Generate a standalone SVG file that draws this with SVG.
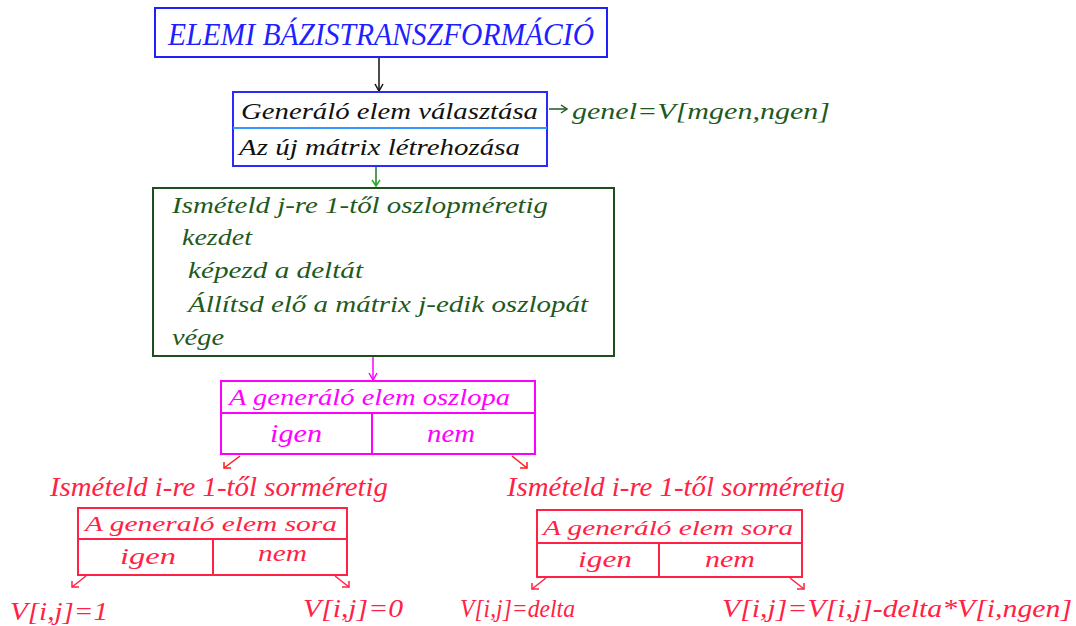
<svg xmlns="http://www.w3.org/2000/svg" width="1076" height="626" viewBox="0 0 1076 626">
<style>
text{font-family:"Liberation Serif","DejaVu Serif",serif;font-style:italic}
.blue{fill:#1f1fff}
.blk{fill:#111}
.grn{fill:#1e5a1e}
.mag{fill:#ff00ff}
.red{fill:#ff2244}
.bx{fill:none;stroke-width:2}
.ln{fill:none;stroke-width:1.5}
</style>
<rect width="1076" height="626" fill="#fff"/>
<g id="connectors">
  <line class="ln" x1="379" y1="58" x2="379" y2="91" stroke="#111"/>
  <polyline class="ln" points="375,84 379,91 383,84" stroke="#111"/>
  <line class="ln" x1="549" y1="109" x2="566" y2="109" stroke="#1e5a1e"/>
  <polyline class="ln" points="561,105 567,109 561,113" stroke="#1e5a1e"/>
  <line class="ln" x1="376" y1="167" x2="376" y2="186" stroke="#1e7a1e"/>
  <polyline class="ln" points="372,180 376,186 380,180" stroke="#22aa22"/>
  <line class="ln" x1="373" y1="357" x2="373" y2="380" stroke="#ff00ff"/>
  <polyline class="ln" points="369,373 373,380 377,373" stroke="#ff00ff"/>
  <line class="ln" x1="240" y1="456" x2="224" y2="468" stroke="#ff1a1a"/>
  <polyline class="ln" points="224,462 224,468 231,468" stroke="#ff1a1a"/>
  <line class="ln" x1="512" y1="456" x2="527" y2="468" stroke="#ff1a1a"/>
  <polyline class="ln" points="520,468 527,468 527,462" stroke="#ff1a1a"/>
  <line class="ln" x1="86" y1="576" x2="72" y2="587" stroke="#ff2244"/>
  <polyline class="ln" points="72,581 72,587 79,587" stroke="#ff2244"/>
  <line class="ln" x1="335" y1="576" x2="349" y2="587" stroke="#ff2244"/>
  <polyline class="ln" points="342,587 349,587 349,581" stroke="#ff2244"/>
  <line class="ln" x1="546" y1="578" x2="532" y2="589" stroke="#ff2244"/>
  <polyline class="ln" points="532,583 532,589 539,589" stroke="#ff2244"/>
  <line class="ln" x1="790" y1="578" x2="804" y2="589" stroke="#ff2244"/>
  <polyline class="ln" points="797,589 804,589 804,583" stroke="#ff2244"/>
</g>
<g id="title">
  <rect class="bx" x="155" y="8" width="452" height="49" stroke="#2020ff"/>
  <text class="blue" x="168" y="45" font-size="31" textLength="426" lengthAdjust="spacingAndGlyphs">ELEMI BÁZISTRANSZFORMÁCIÓ</text>
</g>
<g id="generalo">
  <rect class="bx" x="233" y="92" width="314" height="74" stroke="#2a2aff"/>
  <line x1="233" y1="128" x2="547" y2="128" stroke="#3399ff" stroke-width="2"/>
  <text class="blk" x="241" y="119" font-size="24" textLength="297" lengthAdjust="spacingAndGlyphs">Generáló elem választása</text>
  <text class="blk" x="239" y="155" font-size="24" textLength="281" lengthAdjust="spacingAndGlyphs">Az új mátrix létrehozása</text>
</g>
<g id="genel">
  <text class="grn" x="572" y="119" font-size="24" textLength="258" lengthAdjust="spacingAndGlyphs">genel=V[mgen,ngen]</text>
</g>
<g id="ciklus-j">
  <rect class="bx" x="153" y="188" width="461" height="168" stroke="#1e4e1e"/>
  <text class="grn" x="172" y="213" font-size="24" textLength="376" lengthAdjust="spacingAndGlyphs">Ismételd j-re  1-től oszlopméretig</text>
  <text class="grn" x="182" y="245" font-size="24" textLength="70" lengthAdjust="spacingAndGlyphs">kezdet</text>
  <text class="grn" x="188" y="278" font-size="24" textLength="175" lengthAdjust="spacingAndGlyphs">képezd a deltát</text>
  <text class="grn" x="188" y="312" font-size="24" textLength="400" lengthAdjust="spacingAndGlyphs">Állítsd elő a mátrix j-edik oszlopát</text>
  <text class="grn" x="172" y="345" font-size="24" textLength="52" lengthAdjust="spacingAndGlyphs">vége</text>
</g>
<g id="oszlop">
  <rect class="bx" x="221" y="381" width="314" height="73" stroke="#ff00ff"/>
  <line x1="221" y1="413" x2="535" y2="413" stroke="#ff00ff" stroke-width="2"/>
  <line x1="372" y1="413" x2="372" y2="454" stroke="#ff00ff" stroke-width="2"/>
  <text class="mag" x="229" y="405" font-size="24" textLength="281" lengthAdjust="spacingAndGlyphs">A  generáló elem oszlopa</text>
  <text class="mag" x="270" y="442" font-size="25" textLength="52" lengthAdjust="spacingAndGlyphs">igen</text>
  <text class="mag" x="427" y="442" font-size="25" textLength="48" lengthAdjust="spacingAndGlyphs">nem</text>
</g>
<g id="ciklus-i-bal">
  <text class="red" x="50" y="496" font-size="27" textLength="338" lengthAdjust="spacingAndGlyphs">Ismételd i-re 1-től sorméretig</text>
</g>
<g id="sor-bal">
  <rect class="bx" x="78" y="508" width="269" height="67" stroke="#ff2244"/>
  <line x1="78" y1="539" x2="347" y2="539" stroke="#ff2244" stroke-width="2"/>
  <line x1="213" y1="539" x2="213" y2="575" stroke="#ff2244" stroke-width="2"/>
  <text class="red" x="85" y="531" font-size="22" textLength="252" lengthAdjust="spacingAndGlyphs">A  generaló elem sora</text>
  <text class="red" x="120" y="564" font-size="24" textLength="56" lengthAdjust="spacingAndGlyphs">igen</text>
  <text class="red" x="258" y="561" font-size="24" textLength="49" lengthAdjust="spacingAndGlyphs">nem</text>
</g>
<g id="v1"><text class="red" x="10" y="620" font-size="25" textLength="98" lengthAdjust="spacingAndGlyphs">V[i,j]=1</text></g>
<g id="v0"><text class="red" x="303" y="617" font-size="25" textLength="100" lengthAdjust="spacingAndGlyphs">V[i,j]=0</text></g>
<g id="ciklus-i-jobb">
  <text class="red" x="507" y="496" font-size="27" textLength="338" lengthAdjust="spacingAndGlyphs">Ismételd i-re 1-től sorméretig</text>
</g>
<g id="sor-jobb">
  <rect class="bx" x="537" y="510" width="265" height="67" stroke="#ff2244"/>
  <line x1="537" y1="543" x2="802" y2="543" stroke="#ff2244" stroke-width="2"/>
  <line x1="659" y1="543" x2="659" y2="577" stroke="#ff2244" stroke-width="2"/>
  <text class="red" x="543" y="535" font-size="22" textLength="250" lengthAdjust="spacingAndGlyphs">A generáló elem sora</text>
  <text class="red" x="578" y="567" font-size="24" textLength="54" lengthAdjust="spacingAndGlyphs">igen</text>
  <text class="red" x="705" y="567" font-size="24" textLength="50" lengthAdjust="spacingAndGlyphs">nem</text>
</g>
<g id="vdelta"><text class="red" x="460" y="617" font-size="26" textLength="115" lengthAdjust="spacingAndGlyphs">V[i,j]=delta</text></g>
<g id="vkivon"><text class="red" x="722" y="617" font-size="25" textLength="350" lengthAdjust="spacingAndGlyphs">V[i,j]=V[i,j]-delta*V[i,ngen]</text></g>
</svg>
